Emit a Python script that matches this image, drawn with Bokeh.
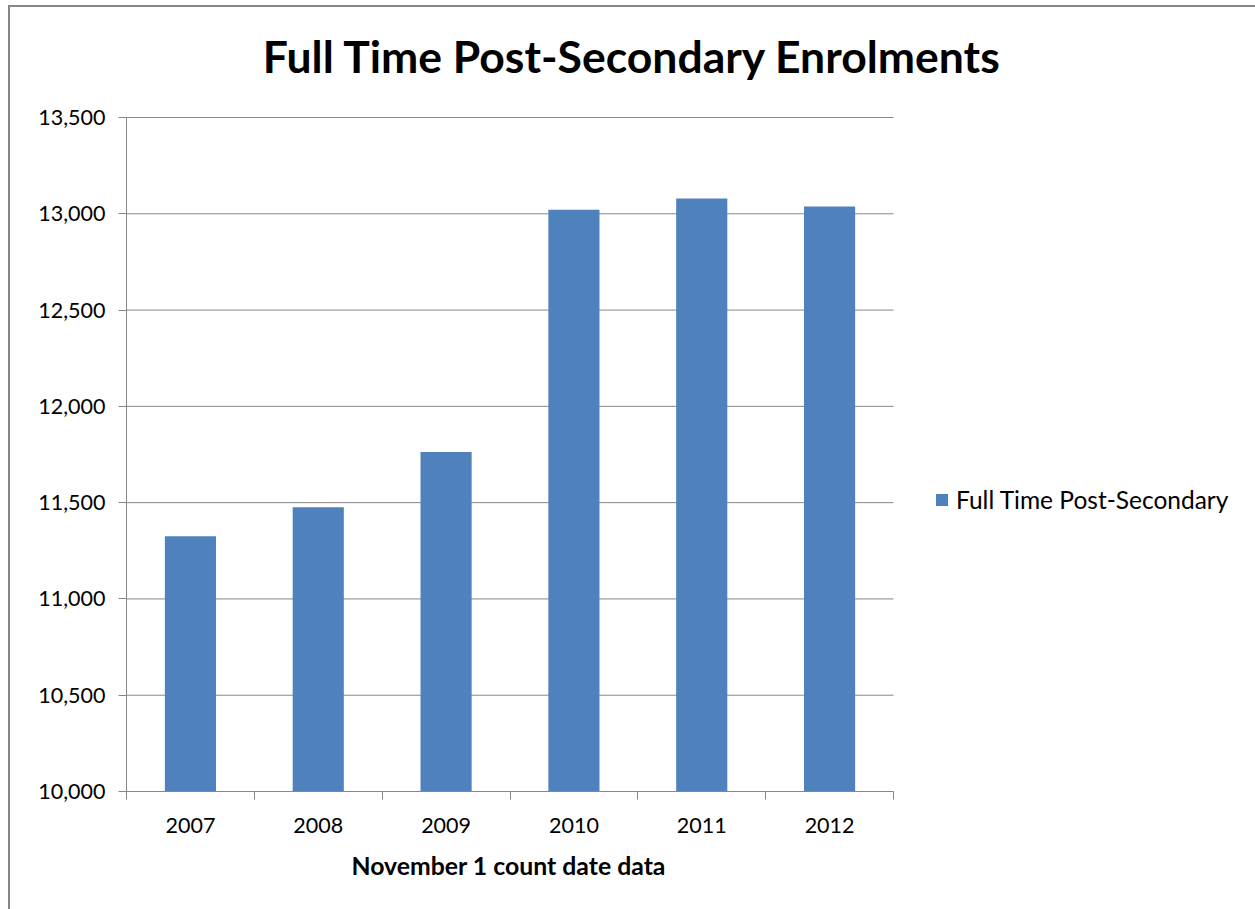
from bokeh.plotting import figure
from bokeh.models import (FixedTicker, NumeralTickFormatter, Legend, LegendItem,
                          Range1d, ColumnDataSource, Label, Title)
from bokeh.embed import file_html
from bokeh.resources import INLINE

# Full-time post-secondary enrolments, November 1 count date
years = ["2007", "2008", "2009", "2010", "2011", "2012"]
enrolments = [11326, 11476, 11763, 13021, 13079, 13038]
y_ticks = [10000, 10500, 11000, 11500, 12000, 12500, 13000, 13500]

BAR = "#4F81BD"
GRID = "#878787"
EDGE = "#868686"
FONT = "Lato"

# the chart area runs past the right and bottom of the page
W, H = 1255, 912
PAGE_DX, PAGE_DY = 10, 7
# plot area inside the canvas
AX_L, AX_R, AX_T, AX_B = 116, 883, 110, 784

n = len(years)
y0, y1 = y_ticks[0], y_ticks[-1]
px_x = (AX_R - AX_L) / n          # pixels per category
px_y = (AX_B - AX_T) / (y1 - y0)  # pixels per enrolment

# the frame reaches the right and top edges so the legend and title can sit in it;
# the axes are bounded to the plot area
x_end = (W - AX_L) / px_x
y_end = y0 + AX_B / px_y

src = ColumnDataSource(dict(x=[i + 0.5 for i in range(n)], top=enrolments, year=years))

p = figure(width=W, height=H, output_backend="svg", toolbar_location=None,
           x_range=Range1d(0, x_end), y_range=Range1d(y0, y_end),
           min_border_left=AX_L, min_border_right=0,
           min_border_top=0, min_border_bottom=H - AX_B)
p.background_fill_color = "white"
p.border_fill_color = "white"
p.outline_line_color = None
# chart-area frame line on the left and top edges
p.styles = {"position": "absolute", "left": f"{PAGE_DX}px", "top": f"{PAGE_DY}px",
            "box-shadow": f"-2px -2px 0 0 {EDGE}"}

# horizontal gridlines across the plot area
p.segment(x0=[0] * len(y_ticks), x1=[n] * len(y_ticks), y0=y_ticks, y1=y_ticks,
          line_color=GRID, line_width=1)

r = p.vbar(x="x", top="top", bottom=y0, width=0.4, source=src,
           fill_color=BAR, line_color=None)

# title, centred over the whole chart area
p.add_layout(Label(x=(632 - PAGE_DX - AX_L) / px_x, y=y1 + 62 / px_y,
                   text="Full Time Post-Secondary Enrolments",
                   text_align="center", text_baseline="middle",
                   text_font=FONT, text_font_style="bold",
                   text_font_size="44.5px", text_color="black"))

# y axis
p.yaxis.bounds = (y0, y1)
p.yaxis.ticker = FixedTicker(ticks=y_ticks)
p.yaxis.formatter = NumeralTickFormatter(format="0,0")
p.yaxis.axis_line_color = GRID
p.yaxis.major_tick_line_color = GRID
p.yaxis.major_tick_out = 8
p.yaxis.major_tick_in = 0
p.yaxis.minor_tick_line_color = None
p.yaxis.major_label_standoff = 13
p.yaxis.major_label_text_font = FONT
p.yaxis.major_label_text_font_size = "21.5px"
p.yaxis.major_label_text_color = "black"

# x axis: labels at category centres, ticks at category boundaries
p.xaxis.bounds = (0, n)
p.xaxis.ticker = FixedTicker(ticks=[i + 0.5 for i in range(n)],
                             minor_ticks=list(range(n + 1)))
p.xaxis.major_label_overrides = {i + 0.5: y for i, y in enumerate(years)}
p.xaxis.axis_line_color = GRID
p.xaxis.major_tick_line_color = None
p.xaxis.major_tick_out = 8
p.xaxis.major_tick_in = 0
p.xaxis.minor_tick_line_color = GRID
p.xaxis.minor_tick_out = 8
p.xaxis.minor_tick_in = 0
p.xaxis.major_label_standoff = 18
p.xaxis.major_label_text_font = FONT
p.xaxis.major_label_text_font_size = "21.5px"
p.xaxis.major_label_text_color = "black"

# x-axis title, centred under the plot area
p.add_layout(Title(text="November 1 count date data", align="left", offset=225,
                   text_font=FONT, text_font_style="bold",
                   text_font_size="24.8px", text_color="black", standoff=26),
             "below")

p.xgrid.grid_line_color = None
p.ygrid.grid_line_color = None

# legend to the right of the plot area
legend = Legend(items=[LegendItem(label="Full Time Post-Secondary", renderers=[r])],
                location=(808, AX_B - 507),
                border_line_color=None, background_fill_alpha=0,
                padding=0, margin=0, glyph_width=15, glyph_height=15,
                label_standoff=7, label_height=15, label_text_font=FONT,
                label_text_font_size="24.5px", label_text_color="black")
p.add_layout(legend)

# page without scrollbars; the chart area is cut at the window edge
page_template = """
{% block preamble %}
<style>html, body { margin: 0; overflow: hidden; }</style>
{% endblock %}
"""

open("out.html", "w").write(file_html(p, INLINE, template=page_template))
